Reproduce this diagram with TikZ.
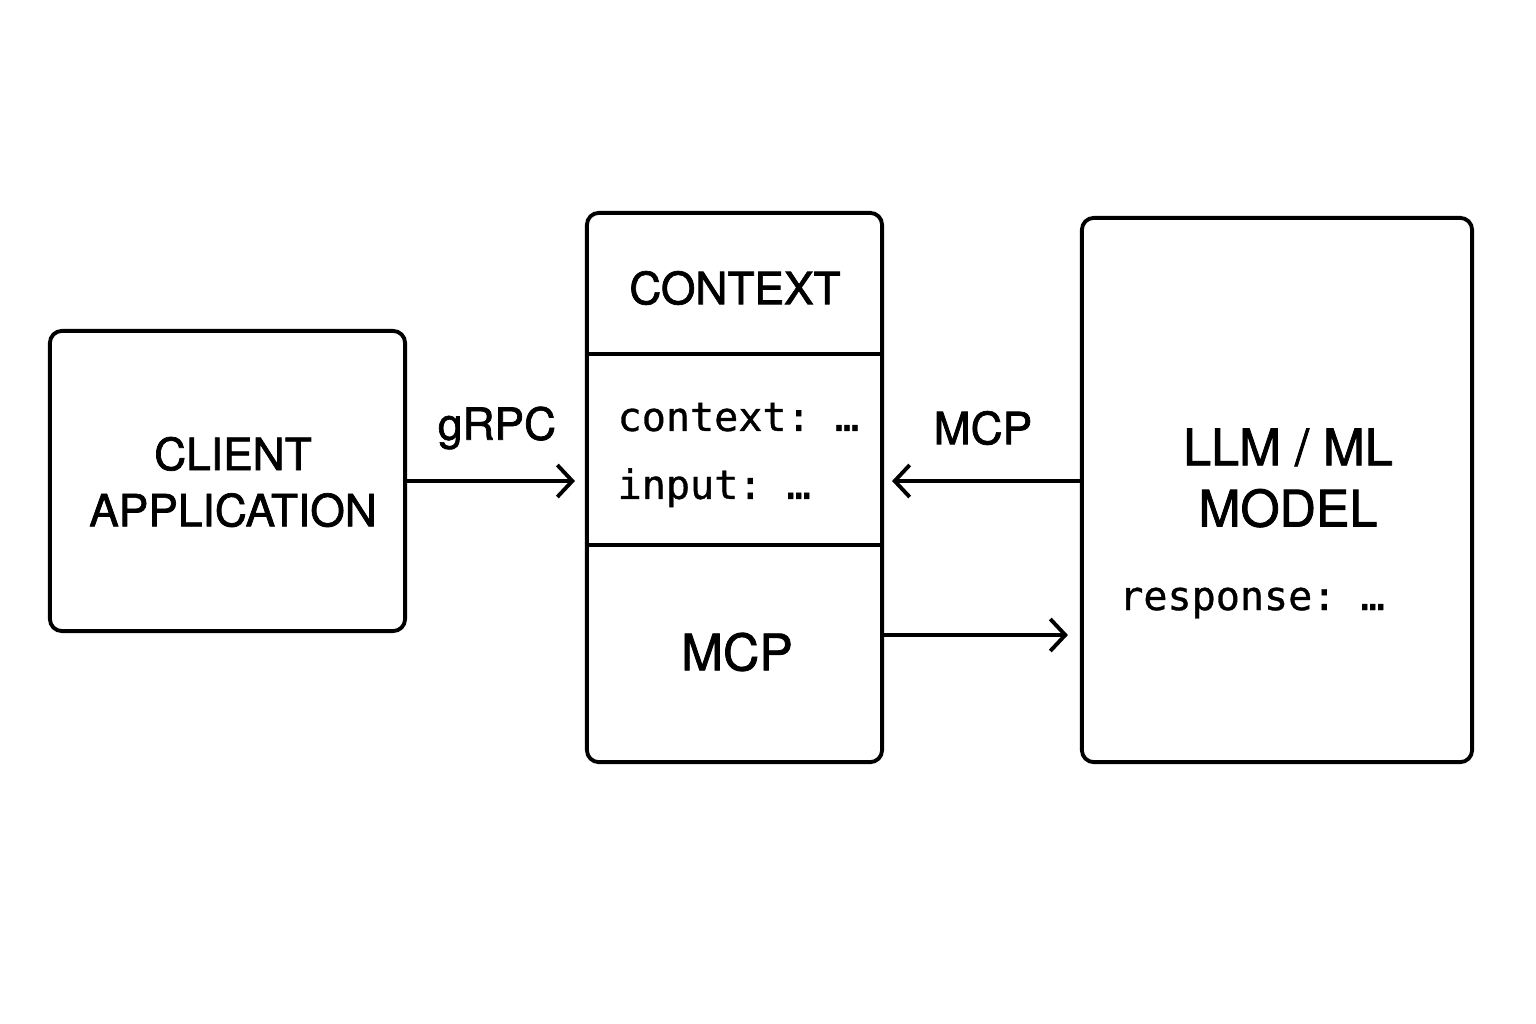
\documentclass[tikz,border=0pt]{standalone}
\usepackage{fontspec}
\setmainfont{TeX Gyre Heros}[RawFeature={embolden=1.6}]
\setmonofont{DejaVu Sans Mono}[RawFeature={embolden=0.8}]
\usetikzlibrary{arrows.meta}

\tikzset{
every picture/.style={
line width=1.1pt
}}

\begin{document}
\begin{tikzpicture}[x=0.01cm, y=-0.01cm,
box/.style = {rectangle, draw=black, rounded corners=0.12cm, align=center},
lbl/.style = {font=\fontsize{12.6}{16}\selectfont},
big/.style = {font=\fontsize{14.3}{17.4}\selectfont},
code/.style = {font=\ttfamily\fontsize{11.4}{19.3}\selectfont, align=left},
arr/.style = {-{Straight Barb[length=0.15cm, width=0.32cm, line width=1.1pt]}}]

\useasboundingbox (0,0) rectangle (1536,1024);

\node[box, minimum width=3.55cm, minimum height=3cm] (client) at (227.5,481) {};
\node[box, minimum width=2.95cm, minimum height=5.49cm] (mid) at (734.5,487.5) {};
\node[box, minimum width=3.9cm, minimum height=5.44cm] (llm) at (1277,490) {};

% dividers of the middle box
\draw (mid.west |- 0,354) -- (mid.east |- 0,354);
\draw (mid.west |- 0,545) -- (mid.east |- 0,545);

\node[lbl, align=center] (clienttxt) at (233,482) {CLIENT\\APPLICATION};

\node[lbl] (ctxhead) at (735,288) {CONTEXT};
\node[code, anchor=west] (fields) at (604,455) {context: …\\input: …};
\node[big] (mcp) at (737,652) {MCP};

\node[big, align=center] (model) at (1288,478) {LLM / ML\\MODEL};
\node[code] (resp) at (1252,603) {response: …};

\node[lbl] (grpc) at (497,428) {gRPC};
\node[lbl] (mcplbl) at (983,428) {MCP};

\draw[arr, shorten >=0.1cm] (client.east |- 0,481) -- (mid.west |- 0,481);
\draw[arr, shorten >=0.08cm] (llm.west |- 0,481) -- (mid.east |- 0,481);
\draw[arr, shorten >=0.12cm] (mid.east |- 0,635) -- (llm.west |- 0,635);
\end{tikzpicture}
\end{document}
